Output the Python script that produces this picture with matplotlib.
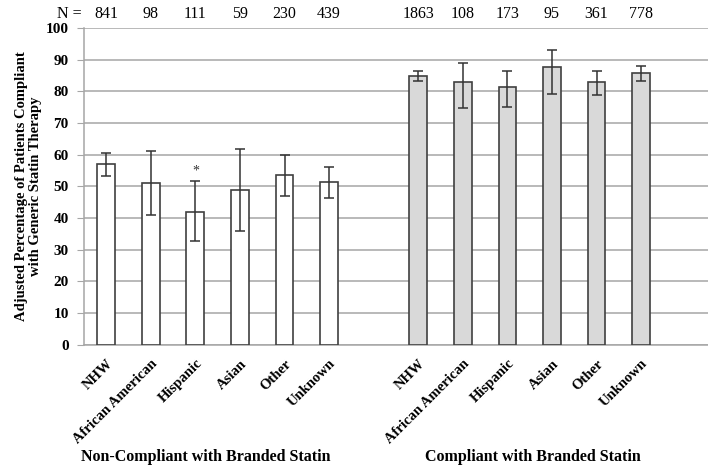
import numpy as np
import matplotlib
matplotlib.use("Agg")
import matplotlib.pyplot as plt

categories = ["NHW", "African American", "Hispanic", "Asian", "Other", "Unknown"]
groups = ["Non-Compliant with Branded Statin", "Compliant with Branded Statin"]

# adjusted percentages, with lower / upper ends of the error bars
noncomp_vals = [57.0, 51.0, 42.0, 48.8, 53.5, 51.4]
noncomp_lo = [53.2, 40.8, 32.8, 36.0, 46.8, 46.4]
noncomp_hi = [60.4, 61.2, 51.6, 61.8, 60.0, 56.0]
noncomp_n = [841, 98, 111, 59, 230, 439]

comp_vals = [84.9, 83.0, 81.3, 87.6, 83.0, 85.9]
comp_lo = [83.2, 74.7, 75.0, 79.0, 78.8, 83.4]
comp_hi = [86.5, 88.8, 86.3, 93.0, 86.5, 88.1]
comp_n = [1863, 108, 173, 95, 361, 778]

y_ticks = list(range(0, 101, 10))

plt.rcParams['font.family'] = ['Liberation Serif', 'DejaVu Serif']

fig = plt.figure(figsize=(7.08, 4.66), dpi=100)
ax = fig.add_axes([0.1186, 0.2607, 0.8814, 0.6793])

x_left = np.arange(len(categories))
x_right = x_left + len(categories) + 1
bar_w = 0.40
edge = "#404040"

def draw_group(xs, vals, lo, hi, color):
    vals = np.array(vals)
    yerr = [vals - np.array(lo), np.array(hi) - vals]
    ax.bar(xs, vals, width=bar_w, color=color, edgecolor=edge, linewidth=1.2, zorder=3)
    ax.errorbar(xs, vals, yerr=yerr, fmt="none", ecolor="#333333", elinewidth=1.1,
                capsize=3.5, capthick=1.1, zorder=4)

draw_group(x_left, noncomp_vals, noncomp_lo, noncomp_hi, "white")
draw_group(x_right, comp_vals, comp_lo, comp_hi, "#d9d9d9")

# significance marker over Hispanic (non-compliant)
ax.text(x_left[2], noncomp_hi[2] + 1.0, "*", ha="center", va="bottom", fontsize=10, color="#333333")

ax.set_xlim(-0.5, 13.5)
ax.set_ylim(0, 100)
ax.set_yticks(y_ticks)
ax.set_yticklabels([str(t) for t in y_ticks], fontsize=11, fontweight="bold")
ax.grid(axis="y", color="#a6a6a6", linewidth=1.1, zorder=0)
ax.set_axisbelow(True)

for side in ["top", "right"]:
    ax.spines[side].set_visible(False)
ax.spines["left"].set_color("#a6a6a6")
ax.spines["bottom"].set_color("#a6a6a6")
ax.spines["left"].set_linewidth(1.1)
ax.spines["bottom"].set_linewidth(1.1)
ax.tick_params(axis="y", length=5, color="#a6a6a6", pad=6)

all_x = np.concatenate([x_left, x_right])
ax.set_xticks(all_x)
ax.set_xticklabels(categories + categories, rotation=45, ha="right", va="top",
                   rotation_mode="anchor", fontsize=10.5, fontweight="bold")
ax.tick_params(axis="x", length=0, pad=9)

ax.set_ylabel("Adjusted Percentage of Patients Compliant\nwith Generic Statin Therapy",
              fontsize=10.5, fontweight="bold", linespacing=1.1)
ax.yaxis.set_label_coords(-0.068, 0.5)

# N row above the plot
ax.text(-0.82, 1.045, "N =", transform=ax.get_xaxis_transform(), ha="center", va="center", fontsize=11.5)
for xs, ns in [(x_left, noncomp_n), (x_right, comp_n)]:
    for x, n in zip(xs, ns):
        ax.text(x, 1.045, str(n), transform=ax.get_xaxis_transform(), ha="center", va="center", fontsize=11.5)

# group labels
ax.text(2.23, -0.355, groups[0], transform=ax.get_xaxis_transform(), ha="center", va="center",
        fontsize=11.5, fontweight="bold")
ax.text(9.57, -0.355, groups[1], transform=ax.get_xaxis_transform(), ha="center", va="center",
        fontsize=11.5, fontweight="bold")

fig.savefig("out.png", dpi=100)
